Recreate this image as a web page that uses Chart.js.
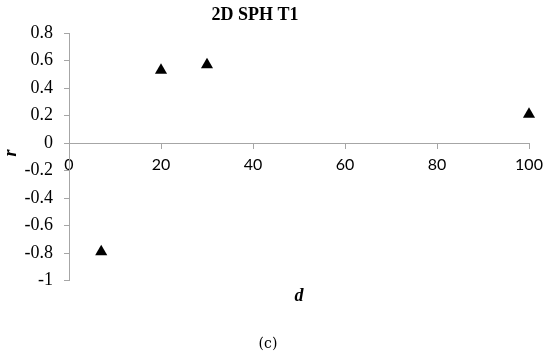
<!DOCTYPE html>
<html>
<head>
<meta charset="utf-8">
<script src="https://cdn.jsdelivr.net/npm/chart.js@4.4.1/dist/chart.umd.min.js"></script>
<style>
  html, body { margin: 0; padding: 0; background: #fff; }
  #wrap { width: 550px; height: 354px; position: relative; }
</style>
</head>
<body>
<div id="wrap"><canvas id="c" width="550" height="354"></canvas></div>
<script>
const dValues = [7, 20, 30, 100];
const rValues = [-0.79, 0.53, 0.57, 0.21];
const xTicks = [0, 20, 40, 60, 80, 100];
const yTicks = [-1, -0.8, -0.6, -0.4, -0.2, 0, 0.2, 0.4, 0.6, 0.8];
const chartTitle = '2D SPH T1';
const xTitle = 'd';
const yTitle = 'r';
const caption = '(c)';

const points = dValues.map((d, i) => ({ x: d, y: rValues[i] }));

const annotations = {
  id: 'annotations',
  afterDraw(chart) {
    const ctx = chart.ctx;
    const a = chart.chartArea;
    ctx.save();
    ctx.fillStyle = '#000';
    ctx.textAlign = 'center';
    ctx.textBaseline = 'middle';
    ctx.font = 'bold 18px "Liberation Serif", serif';
    ctx.fillText(chartTitle, a.left + 186, 15);
    ctx.font = 'italic bold 18px "Liberation Serif", serif';
    ctx.fillText(xTitle, a.left + 230, a.bottom + 16);
    ctx.save();
    ctx.translate(11, a.top + 120);
    ctx.rotate(-Math.PI / 2);
    ctx.fillText(yTitle, 0, 0);
    ctx.restore();
    ctx.font = '14px "DejaVu Serif", serif';
    ctx.fillText(caption, a.left + 199, a.bottom + 64);
    ctx.restore();
  }
};

new Chart(document.getElementById('c'), {
  type: 'scatter',
  data: {
    datasets: [{
      data: points,
      clip: false,
      pointStyle: 'triangle',
      pointRadius: 7,
      pointHoverRadius: 7,
      backgroundColor: '#000',
      borderColor: '#000',
      borderWidth: 0
    }]
  },
  options: {
    responsive: false,
    animation: false,
    events: [],
    layout: { padding: { left: 0, right: 21, top: 33, bottom: 73.5 } },
    plugins: {
      legend: { display: false },
      tooltip: { enabled: false },
      title: { display: false }
    },
    scales: {
      x: {
        type: 'linear',
        min: 0, max: 100,
        position: { y: 0 },
        afterBuildTicks(scale) { scale.ticks = xTicks.map(v => ({ value: v })); },
        grid: { drawOnChartArea: false, drawTicks: true, tickLength: 5, color: '#a6a6a6', lineWidth: 1 },
        border: { display: true, color: '#a6a6a6', width: 1 },
        ticks: {
          color: '#000',
          padding: 7,
          maxRotation: 0,
          autoSkip: false,
          font: { family: 'Lato', size: 16 }
        }
      },
      y: {
        type: 'linear',
        min: -1, max: 0.8,
        position: 'left',
        afterBuildTicks(scale) { scale.ticks = yTicks.map(v => ({ value: v })); },
        afterFit(scale) { scale.width = 69; },
        grid: { drawOnChartArea: false, drawTicks: true, tickLength: 5, color: '#a6a6a6', lineWidth: 1 },
        border: { display: true, color: '#a6a6a6', width: 1 },
        ticks: {
          color: '#000',
          padding: 11,
          autoSkip: false,
          font: { family: '"Liberation Serif"', size: 18 },
          callback: v => String(Math.round(v * 10) / 10)
        }
      }
    }
  },
  plugins: [annotations]
});
</script>
</body>
</html>
